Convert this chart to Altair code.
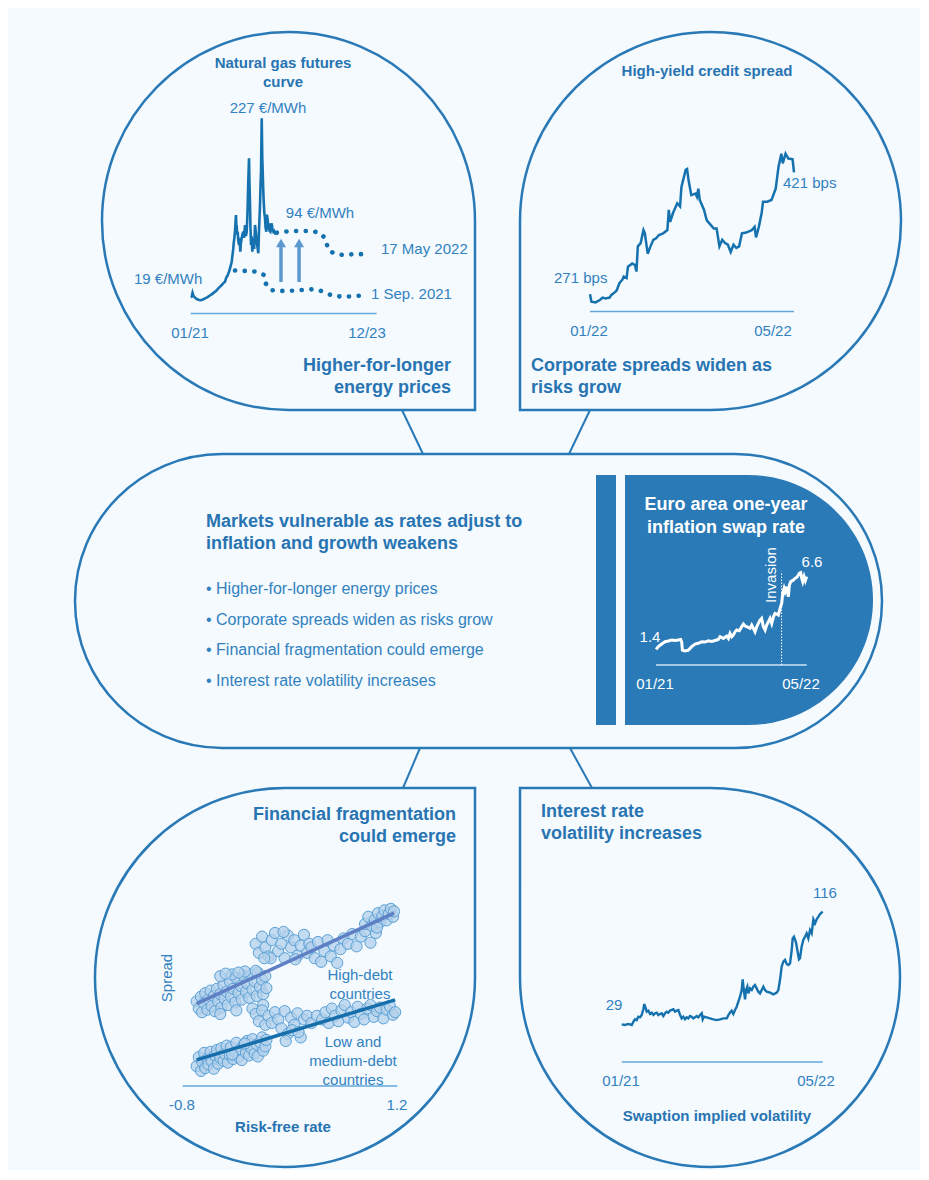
import altair as alt
import pandas as pd

FONT = "Liberation Sans"
BG = "#F4FAFE"
OUTLINE = "#2A79B7"
LINE = "#1572AF"
TXT = "#3281C0"
TITLE = "#2874B2"
AXIS = "#63A9DD"
ARROW = "#5B98CD"
PANEL = "#2A7AB7"
OFF = 8

# ---------------- data ----------------
# Natural gas (month index from Jan 2021, EUR/MWh)
gas_month = [0.0,0.19,0.35,0.5,0.81,1.1,1.43,1.8,2.07,2.4,2.69,3.0,3.31,3.6,3.95,4.3,4.58,4.9,5.2,5.5,
             5.84,6.1,6.46,6.6,6.78,6.95,7.08,7.25,7.4,7.55,7.72,7.85,8.02,8.1,8.21,8.28,8.34,8.45,8.53,8.6,
             8.66,8.75,8.85,8.95,9.1,9.2,9.34,9.45,9.6,9.75,9.91,10.05,10.23,10.4,10.55,10.65,10.73,10.85,10.98,11.07,
             11.17,11.25,11.36,11.45,11.6,11.7,11.86,11.95,12.11,12.25,12.43,12.55,12.73,12.85,13.05,13.15,13.24,13.37,13.48,13.56,
             13.65,13.75,13.85,13.99,14.1,14.24,14.35,14.5,14.6,14.75,14.85,14.99,15.1,15.26,15.4,15.56,15.7,15.88,16.1,16.38]
gas_price = [19,19.5,24,21,18.4,17,16,15.5,15.7,16.5,17.6,18.5,19.5,21,22.3,24,25.3,27,29.3,31,
             33.1,35,37,40,42.8,44,46.7,49,52.5,56,60.2,67,75.8,82,87.4,92,95.1,108,114.5,100,
             102.9,92,95.1,85,79.7,88,71.9,82,87.4,92,95.1,88,102.9,90,95.1,110,126.2,155,180.5,150,
             126.2,100,79.7,90,71.9,85,87.4,75,102.9,95,83.5,78,70,95,126.2,150,164.9,227,180,164.9,
             145,130,118,110.7,100,95.1,115,108.7,98,104.9,96,95.1,100,104.9,97,95.1,96,93.3,94,93.3]
fut_may22_month = [16.2,17.4,19.3,21.2,23.0,24.5,25.5,25.8,26.9,28.7,30.6,32.5]
fut_may22_price = [94,95,96,96,96,93,86,75,70,68,69,69]
fut_sep21_month = [8.34,10.5,12.4,13.8,14.1,15.1,16.8,19.0,20.9,22.8,24.4,25.6,26.9,29.2,30.9,32.9]
fut_sep21_price = [50,49.5,48.6,44.8,35.1,27.3,26.2,26.5,27.3,28.1,26.5,23.5,20.3,19.5,20.3,21.2]
arrow_month = [17.0, 20.4]
arrow_base = [36.6, 36.6]
arrow_tip = [82, 82]
gas_axis = [0, 35]

# High-yield credit spread (days since 1 Jan 2022, bps)
hy_day = [0,1,4,7,9,11,14,15,18,19,21,23,24,26,27,30,32,33,34,36,
          38,39,41,43,45,47,49,52,55,56,57,59,62,64,65,68,69,70,72,75,
          76,77,78,81,83,85,88,90,92,94,96,98,100,102,104,106,108,111,115,117,
          118,120,122,123,126,129,132,134,136,137,139,141,144,145]
hy_bps = [271,262,261,264,267,266,267,270,274,276,285,289,293,291,305,309,307,299,330,334,
          350,346,321,330,338,340,344,346,350,375,360,371,383,379,403,424,425,412,393,395,
          391,401,387,375,362,358,352,352,330,338,334,332,323,332,328,330,346,347,350,354,
          341,354,371,385,385,387,401,428,444,432,444,438,437,421]
hy_axis = [0, 145]

# Euro area one-year inflation swap (months since Jan 2021, %)
swap_month = [0,0.26,0.63,1.0,1.38,1.75,2.12,2.49,2.75,2.86,2.94,3.23,3.61,3.98,4.35,4.72,5.09,5.46,5.84,6.21,
              6.58,6.95,7.14,7.51,7.88,8.07,8.25,8.44,8.62,8.81,9.0,9.29,9.55,9.74,9.93,10.11,10.48,10.67,10.86,11.04,
              11.23,11.41,11.6,11.78,11.97,12.16,12.34,12.53,12.71,12.9,13.09,13.27,13.46,13.64,13.83,14.01,14.13,14.28,14.39,14.57,
              14.76,14.87,15.02,15.32,15.5,15.69,15.87,15.99,16.13,16.25,16.36,16.51,16.65,16.8]
swap_rate = [1.33,1.52,1.70,1.86,1.91,1.98,1.95,1.98,2.02,1.86,1.28,1.22,1.28,1.52,1.70,1.75,1.86,1.84,1.93,1.88,
             1.95,2.02,2.21,2.09,2.25,2.09,2.44,2.21,2.32,2.55,2.67,2.62,2.90,3.09,2.95,2.90,2.79,3.02,2.79,2.55,
             2.90,3.13,3.36,3.48,2.90,2.67,3.02,3.25,3.48,3.13,3.59,3.82,3.78,3.71,4.17,4.52,5.21,5.56,5.33,5.67,
             4.98,5.79,6.02,6.13,6.25,6.32,6.48,6.60,6.64,6.25,6.02,6.37,6.09,6.37]
swap_axis = [0, 16.8]
swap_floor = 0.25
invasion_month = [14.0]
invasion_top = [6.7]

# Swaption implied volatility (months since Jan 2021)
swpt_month = [0,0.28,0.56,0.84,0.98,1.11,1.25,1.39,1.53,1.67,1.81,1.89,2.01,2.09,2.23,2.37,2.51,2.65,2.79,2.93,
              3.06,3.2,3.34,3.48,3.62,3.76,3.9,4.04,4.18,4.32,4.46,4.6,4.74,4.88,5.01,5.15,5.29,5.43,5.57,5.71,
              5.85,5.99,6.13,6.27,6.41,6.55,6.69,6.77,6.88,7.1,7.38,7.66,7.94,8.22,8.5,8.78,8.92,9.05,9.19,9.33,
              9.47,9.61,9.75,9.89,10.03,10.11,10.22,10.31,10.39,10.5,10.59,10.73,10.87,11.0,11.14,11.28,11.42,11.56,11.7,11.84,
              11.98,12.12,12.4,12.68,12.96,13.09,13.23,13.37,13.51,13.65,13.79,13.93,14.07,14.21,14.29,14.4,14.57,14.68,14.82,14.9,
              15.04,15.18,15.32,15.46,15.6,15.74,15.88,16.02,16.16,16.3,16.44,16.58,16.8]
swpt_vol = [29.0,28.5,29.3,28.5,31.1,32.9,32.3,34.9,34.4,36.2,40.6,44.7,41.4,38.8,39.6,37.0,38.0,36.2,37.5,38.0,
            36.2,37.0,37.5,35.4,37.5,38.8,38.0,39.6,40.1,40.6,38.8,39.6,40.1,36.2,33.6,34.9,32.9,34.4,33.6,35.4,
            34.9,33.6,34.4,35.4,34.4,36.2,37.5,32.9,34.9,34.4,33.6,32.9,32.3,32.9,33.6,33.6,36.2,38.0,39.6,37.0,
            40.1,42.6,46.5,50.4,55.5,63.7,54.2,48.3,55.5,58.1,52.9,56.8,55.5,58.1,59.4,56.8,54.2,52.9,55.5,58.1,
            55.5,54.2,53.5,52.2,53.5,55.5,63.2,73.5,77.4,78.7,75.6,74.8,76.1,86.4,95.4,96.7,92.1,86.4,79.2,80.0,
            89.0,94.1,96.7,99.3,95.4,101.8,99.3,110.1,107.0,110.1,112.1,114.2,116.0]
swpt_axis = [0, 16.8]

# Fragmentation scatter (risk-free rate vs spread)
hx_left = [-0.67,-0.65,-0.63,-0.62,-0.60,-0.59,-0.57,-0.56,-0.54,-0.53,-0.51,-0.50,-0.48,-0.47,-0.45,-0.44,-0.42,-0.41,-0.39,-0.38,
           -0.36,-0.35,-0.33,-0.31,-0.30,-0.28,-0.26,-0.25,-0.23,-0.21,-0.20,-0.18,-0.16,-0.15,-0.13,-0.11,-0.10,-0.08,-0.06,-0.05,
           -0.03,-0.02,-0.34,-0.22,-0.45,-0.40,-0.28,-0.12,-0.30,-0.15,-0.05,-0.45]
hy_left = [2.35,2.15,2.48,2.05,2.30,2.58,2.12,2.40,2.65,2.22,2.50,2.08,2.70,2.35,2.55,2.18,2.80,2.42,2.62,2.25,
           2.90,2.48,2.70,2.32,3.00,2.58,2.78,2.40,3.05,2.62,2.85,2.45,3.10,2.68,2.90,2.50,3.15,2.75,2.95,2.55,
           3.05,2.72,3.10,3.18,3.05,3.12,3.15,3.20,2.10,2.15,2.25,2.00]
hx_step = [-0.12,-0.09,-0.06,-0.03,0.00,0.03,0.06,0.09,0.12,0.15,0.18,0.21,0.24,0.27,0.30,0.33,0.36,0.02,0.14,0.25,0.38,-0.04]
hy_step = [3.95,3.70,4.15,3.85,3.60,4.05,4.25,3.75,3.95,3.55,4.18,3.85,4.05,3.62,3.90,4.20,3.70,3.55,4.28,3.52,3.95,3.55]
hx_mid = [0.40,0.43,0.46,0.49,0.52,0.55,0.58,0.61,0.64,0.67,0.70,0.74,0.78,0.82,0.86,0.90,0.95,1.00]
hy_mid = [3.85,3.55,4.00,3.45,3.75,4.05,3.60,3.90,3.42,3.80,4.10,3.95,4.22,3.88,4.15,4.30,3.98,4.25]
hx_right = [0.90,0.93,0.96,0.99,1.02,1.04,1.06,1.08,1.10,1.12,1.14,1.16,1.17,1.01]
hy_right = [4.50,4.70,4.45,4.62,4.80,4.55,4.72,4.88,4.60,4.78,4.92,4.70,4.85,4.40]

lx_left = [-0.67,-0.65,-0.63,-0.62,-0.60,-0.59,-0.57,-0.56,-0.54,-0.53,-0.51,-0.50,-0.48,-0.47,-0.45,-0.44,-0.42,-0.41,-0.39,-0.38,
           -0.36,-0.35,-0.33,-0.31,-0.30,-0.28,-0.26,-0.25,-0.23,-0.21,-0.20,-0.18,-0.16,-0.15,-0.13,-0.11,-0.10,-0.08,-0.06,-0.05,
           -0.03,-0.02,-0.34,-0.22]
ly_left = [0.55,0.80,0.42,0.68,0.92,0.50,0.75,0.60,0.95,0.70,0.48,0.85,1.00,0.62,0.78,1.05,0.70,0.90,1.12,0.65,
           0.85,1.08,0.75,0.95,1.20,0.80,1.02,0.72,1.15,0.92,1.25,0.85,1.05,1.30,0.90,1.15,0.82,1.22,1.35,0.98,
           1.10,1.28,0.88,1.18]
lx_step = [-0.12,-0.09,-0.06,-0.03,0.00,0.03,0.06,0.09,0.12,0.15,0.18,0.21,0.24,0.27,0.30,0.33,0.36,0.16,0.22,0.28,0.40,0.45]
ly_step = [2.00,1.80,2.10,1.70,1.95,1.75,2.05,1.85,1.60,2.08,1.45,1.90,1.70,2.02,1.35,1.85,1.95,1.25,1.55,1.50,1.75,1.95]
lx_right = [0.50,0.53,0.56,0.59,0.62,0.65,0.68,0.71,0.74,0.77,0.80,0.83,0.86,0.89,0.92,0.95,0.98,1.01,1.04,1.07,1.10,1.13,1.16,1.18]
ly_right = [1.85,2.05,1.75,2.15,1.95,1.80,2.10,2.25,1.90,2.05,1.78,2.20,2.00,1.85,2.15,2.25,1.92,2.08,2.18,1.88,2.12,2.22,1.98,2.05]
rf_axis = [-0.8, 1.2]

bullets = ["• Higher-for-longer energy prices",
           "• Corporate spreads widen as risks grow",
           "• Financial fragmentation could emerge",
           "• Interest rate volatility increases"]

# ---------------- helpers ----------------
def X(v):
    return v - OFF


def Y(v):
    return v - OFF


ONE = pd.DataFrame({"k": [0]})


def sc(domain, rng):
    return alt.Scale(domain=domain, range=rng, nice=False, zero=False)


def outline(path, cx, cy):
    return alt.Chart(ONE).mark_point(shape=path, size=4, filled=False, color=OUTLINE,
                                     strokeWidth=2.5, opacity=1).encode(
        x=alt.value(X(cx)), y=alt.value(Y(cy)))


def filled(path, cx, cy, color):
    return alt.Chart(ONE).mark_point(shape=path, size=4, filled=True, color=color,
                                     strokeWidth=0, opacity=1).encode(
        x=alt.value(X(cx)), y=alt.value(Y(cy)))


def connector(x1, y1, x2, y2):
    return alt.Chart(ONE).mark_rule(color=OUTLINE, strokeWidth=2).encode(
        x=alt.value(X(x1)), y=alt.value(Y(y1)), x2=alt.value(X(x2)), y2=alt.value(Y(y2)))


def text(s, x, y, size=15, bold=False, color=TXT, align="center", angle=0):
    return alt.Chart(pd.DataFrame({"t": [s]})).mark_text(
        font=FONT, fontSize=size, fontWeight="bold" if bold else "normal",
        color=color, align=align, baseline="middle", angle=angle
    ).encode(text="t:N", x=alt.value(X(x)), y=alt.value(Y(y)))


layers = []

# ---------------- shapes ----------------
layers.append(outline("M 186.5 0 L 186.5 189 L 0 189 A 186.5 189 0 0 1 -186.5 0 "
                      "A 186.5 189 0 0 1 0 -189 A 186.5 189 0 0 1 186.5 0 Z", 288.5, 221))
layers.append(outline("M -190.5 0 A 190.5 189 0 0 1 0 -189 A 190.5 189 0 0 1 190.5 0 "
                      "A 190.5 189 0 0 1 0 189 L -190.5 189 Z", 710.5, 221))
layers.append(outline("M 190 -189.5 L 190 0 A 190 189.5 0 0 1 0 189.5 A 190 189.5 0 0 1 -190 0 "
                      "A 190 189.5 0 0 1 0 -189.5 Z", 285, 977.5))
layers.append(outline("M -190 -189.5 L 0 -189.5 A 190 189.5 0 0 1 190 0 A 190 189.5 0 0 1 0 189.5 "
                      "A 190 189.5 0 0 1 -190 0 Z", 710, 977.5))
layers.append(outline("M -256.5 -147 L 256.5 -147 A 147 147 0 0 1 256.5 147 L -256.5 147 "
                      "A 147 147 0 0 1 -256.5 -147 Z", 478.5, 601))
layers.append(filled("M -123 -125 L 0 -125 A 125 125 0 0 1 0 125 L -123 125 Z", 748, 600, PANEL))
layers.append(alt.Chart(ONE).mark_rect(color=PANEL).encode(
    x=alt.value(X(596)), x2=alt.value(X(616)), y=alt.value(Y(475)), y2=alt.value(Y(725))))
layers.append(connector(402, 410, 423, 454))
layers.append(connector(590, 410, 569, 454))
layers.append(connector(420, 748, 403, 788))
layers.append(connector(570, 748, 592, 788))

# ---------------- gas chart ----------------
gxs = sc([0, 35], [X(190.7), X(376.6)])
gys = sc([0, 227], [Y(313.5), Y(118.3)])
gas_df = pd.DataFrame({"m": gas_month, "p": gas_price})
may_df = pd.DataFrame({"m": fut_may22_month, "p": fut_may22_price})
sep_df = pd.DataFrame({"m": fut_sep21_month, "p": fut_sep21_price})
arr_df = pd.DataFrame({"m": arrow_month, "b": arrow_base, "t": arrow_tip})
gax_df = pd.DataFrame({"a": [gas_axis[0]], "b": [gas_axis[1]], "v": [0]})

layers.append(alt.Chart(gax_df).mark_rule(color=AXIS, strokeWidth=1.5).encode(
    x=alt.X("a:Q", scale=gxs, axis=None), x2="b:Q", y=alt.Y("v:Q", scale=gys, axis=None)))
for d in (sep_df, may_df):
    layers.append(alt.Chart(d).mark_line(color=LINE, strokeWidth=4.6, strokeDash=[0.1, 9.6],
                                         strokeCap="round").encode(
        x=alt.X("m:Q", scale=gxs, axis=None), y=alt.Y("p:Q", scale=gys, axis=None)))
layers.append(alt.Chart(arr_df).mark_rule(color=ARROW, strokeWidth=3.5).encode(
    x=alt.X("m:Q", scale=gxs, axis=None), y=alt.Y("b:Q", scale=gys, axis=None), y2="t:Q"))
layers.append(alt.Chart(arr_df).mark_point(shape="triangle-up", filled=True, size=100, color=ARROW,
                                           opacity=1).encode(
    x=alt.X("m:Q", scale=gxs, axis=None), y=alt.Y("t:Q", scale=gys, axis=None)))
layers.append(alt.Chart(gas_df).mark_line(color=LINE, strokeWidth=2.6).encode(
    x=alt.X("m:Q", scale=gxs, axis=None), y=alt.Y("p:Q", scale=gys, axis=None)))

# ---------------- high-yield chart ----------------
hxs = sc([0, 145], [X(590), X(794)])
hys = sc([250, 450], [Y(311.4), Y(148.8)])
hy_df = pd.DataFrame({"d": hy_day, "v": hy_bps})
hax_df = pd.DataFrame({"a": [hy_axis[0]], "b": [hy_axis[1]], "v": [250]})
layers.append(alt.Chart(hax_df).mark_rule(color=AXIS, strokeWidth=1.5).encode(
    x=alt.X("a:Q", scale=hxs, axis=None), x2="b:Q", y=alt.Y("v:Q", scale=hys, axis=None)))
layers.append(alt.Chart(hy_df).mark_line(color=LINE, strokeWidth=2.5).encode(
    x=alt.X("d:Q", scale=hxs, axis=None), y=alt.Y("v:Q", scale=hys, axis=None)))

# ---------------- swap chart ----------------
sxs = sc([0, 16.8], [X(656), X(806.7)])
sys_ = sc([swap_floor, 7], [Y(665), Y(567.5)])
sw_df = pd.DataFrame({"m": swap_month, "v": swap_rate})
sax_df = pd.DataFrame({"a": [swap_axis[0]], "b": [swap_axis[1]], "v": [swap_floor]})
inv_df = pd.DataFrame({"m": invasion_month, "lo": [swap_floor], "hi": invasion_top})
layers.append(alt.Chart(sax_df).mark_rule(color="#CDE2F3", strokeWidth=1.5).encode(
    x=alt.X("a:Q", scale=sxs, axis=None), x2="b:Q", y=alt.Y("v:Q", scale=sys_, axis=None)))
layers.append(alt.Chart(inv_df).mark_rule(color="white", strokeWidth=1, strokeDash=[1.5, 1.5]).encode(
    x=alt.X("m:Q", scale=sxs, axis=None), y=alt.Y("lo:Q", scale=sys_, axis=None), y2="hi:Q"))
layers.append(alt.Chart(sw_df).mark_line(color="white", strokeWidth=3).encode(
    x=alt.X("m:Q", scale=sxs, axis=None), y=alt.Y("v:Q", scale=sys_, axis=None)))

# ---------------- swaption chart ----------------
vxs = sc([0, 16.8], [X(621.7), X(822.7)])
vys = sc([0, 120], [Y(1061.9), Y(906.5)])
vp_df = pd.DataFrame({"m": swpt_month, "v": swpt_vol})
vax_df = pd.DataFrame({"a": [swpt_axis[0]], "b": [swpt_axis[1]], "v": [0]})
layers.append(alt.Chart(vax_df).mark_rule(color=AXIS, strokeWidth=1.5).encode(
    x=alt.X("a:Q", scale=vxs, axis=None), x2="b:Q", y=alt.Y("v:Q", scale=vys, axis=None)))
layers.append(alt.Chart(vp_df).mark_line(color=LINE, strokeWidth=2.4).encode(
    x=alt.X("m:Q", scale=vxs, axis=None), y=alt.Y("v:Q", scale=vys, axis=None)))

# ---------------- scatter ----------------
fxs = sc(rf_axis, [X(182.7), X(397.3)])
fys = sc([0, 5], [Y(1086), Y(906)])
hx = hx_left + hx_step + hx_mid + hx_right
hyv = hy_left + hy_step + hy_mid + hy_right
lx = lx_left + lx_step + lx_right
lyv = ly_left + ly_step + ly_right
sc_df = pd.DataFrame({"x": hx + lx, "y": hyv + lyv,
                      "g": ["High-debt"] * len(hx) + ["Low and medium-debt"] * len(lx)})
fax_df = pd.DataFrame({"a": [rf_axis[0]], "b": [rf_axis[1]], "v": [0]})
layers.append(alt.Chart(fax_df).mark_rule(color=AXIS, strokeWidth=1.5).encode(
    x=alt.X("a:Q", scale=fxs, axis=None), x2="b:Q", y=alt.Y("v:Q", scale=fys, axis=None)))
layers.append(alt.Chart(sc_df).mark_point(filled=True, fill="#B3D0EB", fillOpacity=0.75,
                                          stroke="#5AA0D6", strokeWidth=1, size=125, opacity=1).encode(
    x=alt.X("x:Q", scale=fxs, axis=None), y=alt.Y("y:Q", scale=fys, axis=None)))
layers.append(alt.Chart(sc_df).transform_regression("x", "y", groupby=["g"]).mark_line(strokeWidth=3.5).encode(
    x=alt.X("x:Q", scale=fxs, axis=None), y=alt.Y("y:Q", scale=fys, axis=None),
    color=alt.Color("g:N", scale=alt.Scale(domain=["High-debt", "Low and medium-debt"],
                                           range=["#5E7FC3", "#166EAB"]), legend=None)))

# ---------------- text ----------------
T = layers.append
T(text("Natural gas futures", 283, 63, bold=True, color=TITLE))
T(text("curve", 283, 82, bold=True, color=TITLE))
T(text("227 €/MWh", 268, 108))
T(text("94 €/MWh", 320, 213))
T(text("17 May 2022", 381, 249, align="left"))
T(text("19 €/MWh", 134, 279, align="left"))
T(text("1 Sep. 2021", 371, 294, align="left"))
T(text("01/21", 190, 333))
T(text("12/23", 367, 333))
T(text("Higher-for-longer", 451, 366, size=18, bold=True, color=TITLE, align="right"))
T(text("energy prices", 451, 388, size=18, bold=True, color=TITLE, align="right"))

T(text("High-yield credit spread", 707, 71, bold=True, color=TITLE))
T(text("421 bps", 783, 183, align="left"))
T(text("271 bps", 554, 278, align="left"))
T(text("01/22", 589, 331))
T(text("05/22", 773, 331))
T(text("Corporate spreads widen as", 531, 366, size=18, bold=True, color=TITLE, align="left"))
T(text("risks grow", 531, 388, size=18, bold=True, color=TITLE, align="left"))

T(text("Markets vulnerable as rates adjust to", 206, 522, size=18, bold=True, color=TITLE, align="left"))
T(text("inflation and growth weakens", 206, 544, size=18, bold=True, color=TITLE, align="left"))
for i, b in enumerate(bullets):
    T(text(b, 206, 589 + 30.6 * i, size=16, align="left"))
T(text("Euro area one-year", 726, 505, size=18, bold=True, color="white"))
T(text("inflation swap rate", 726, 528, size=18, bold=True, color="white"))
T(text("1.4", 650, 637, color="white"))
T(text("6.6", 812, 562, color="white"))
T(text("Invasion", 771, 575, color="white", angle=270))
T(text("01/21", 655, 684, color="white"))
T(text("05/22", 801, 684, color="white"))

T(text("Financial fragmentation", 456, 815, size=18, bold=True, color=TITLE, align="right"))
T(text("could emerge", 456, 837, size=18, bold=True, color=TITLE, align="right"))
T(text("Spread", 167, 978, angle=270))
T(text("High-debt", 360, 975))
T(text("countries", 360, 994))
T(text("Low and", 353, 1042))
T(text("medium-debt", 353, 1061))
T(text("countries", 353, 1080))
T(text("-0.8", 182, 1105))
T(text("1.2", 397, 1105))
T(text("Risk-free rate", 283, 1127, bold=True, color=TITLE))

T(text("Interest rate", 541, 812, size=18, bold=True, color=TITLE, align="left"))
T(text("volatility increases", 541, 834, size=18, bold=True, color=TITLE, align="left"))
T(text("116", 825, 893))
T(text("29", 614, 1005))
T(text("01/21", 621, 1081))
T(text("05/22", 816, 1081))
T(text("Swaption implied volatility", 717, 1116, bold=True, color=TITLE))

chart = alt.layer(*layers).resolve_scale(
    x="independent", y="independent", color="independent"
).properties(
    width=912, height=1162, background=BG, padding=0,
    autosize=alt.AutoSizeParams(type="none")
).configure_view(strokeWidth=0)

chart.save("out.html", embed_options={"renderer": "svg", "actions": False})
